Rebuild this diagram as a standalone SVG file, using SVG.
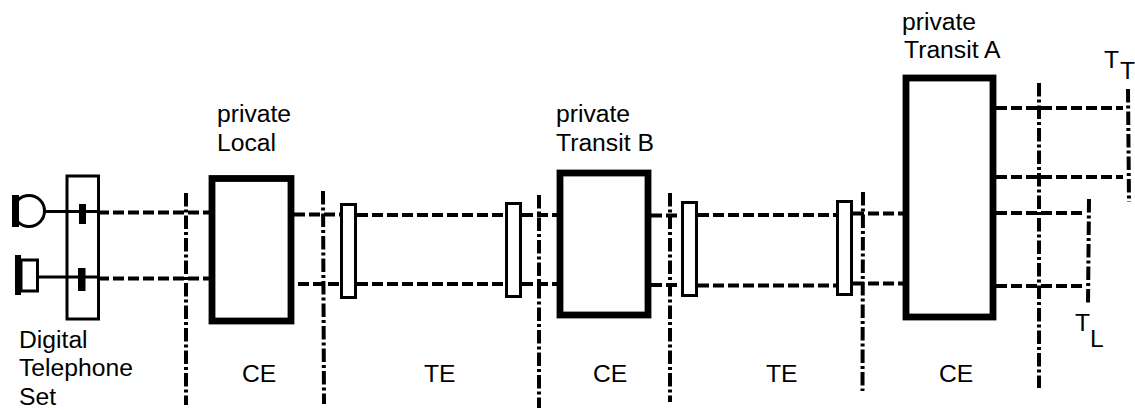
<svg xmlns="http://www.w3.org/2000/svg" width="1135" height="410" viewBox="0 0 1135 410">
<style>
text{font-family:"Liberation Sans",Arial,sans-serif;font-size:24.700px;fill:#000}
.d{fill:none;stroke:#000;stroke-width:4;stroke-dasharray:11 4}
.b{fill:none;stroke:#000;stroke-width:4;stroke-dasharray:13.500 3 3 3}
.s{fill:none;stroke:#000;stroke-width:3}
.big{fill:#fff;stroke:#000;stroke-width:6.800}
.small{fill:#fff;stroke:#000;stroke-width:3}
.k{fill:#000}
</style>
<rect width="1135" height="410" fill="#fff"/>
<g id="connectors">
<path class="d" d="M98 212.500H209M98 278.500H209"/>
<path class="d" d="M294 214.500H340M298 284H340"/>
<path class="d" d="M357 215H505M357 284H505"/>
<path class="d" d="M522 215H557M522 284H557"/>
<path class="d" d="M651 215.500H681M651 285H681"/>
<path class="d" d="M698 215H836M698 285.500H836"/>
<path class="d" d="M853 213.500H903M853 283.500H903"/>
<path class="d" d="M996 108H1123M996 177H1123M996 213H1083M996 286H1083"/>
</g>
<g id="boundaries">
<path class="b" d="M186 193V405"/>
<path class="b" d="M323 191L324 404"/>
<path class="b" d="M539 195V408"/>
<path class="b" d="M670 193V402"/>
<path class="b" d="M863 192L862.500 391"/>
<path class="b" d="M1039 83V388"/>
<path class="b" d="M1128 89L1129 202"/>
<path class="b" d="M1089 199L1088 305"/>
</g>
<g id="microphone">
<circle class="s" cx="29" cy="211" r="15.500"/>
<rect class="k" x="12" y="195" width="7" height="32"/>
<path class="s" d="M45 211.500H100"/>
<rect class="k" x="79" y="204" width="7" height="20"/>
</g>
<g id="earpiece">
<rect class="k" x="15" y="255" width="6" height="40"/>
<rect class="s" x="21" y="260" width="16.500" height="31"/>
<path class="s" d="M38 277H100"/>
<rect class="k" x="78" y="268" width="7.500" height="23"/>
</g>
<g id="telephone-set">
<rect class="s" x="67" y="176" width="31.500" height="143" stroke-width="2.500"/>
<text x="19" y="348">Digital</text>
<text x="19" y="376.300">Telephone</text>
<text x="19" y="404.700">Set</text>
</g>
<g id="private-local">
<rect class="big" x="212" y="178.500" width="79" height="142.500"/>
<text x="217" y="122">private</text>
<text x="217" y="151">Local</text>
<text x="242" y="382">CE</text>
</g>
<g id="te-left-a"><rect class="small" x="341.500" y="204.500" width="14" height="93"/></g>
<g id="te-left-b"><rect class="small" x="506.500" y="203.500" width="14" height="93"/></g>
<g id="te-left-label"><text x="424" y="382">TE</text></g>
<g id="private-transit-b">
<rect class="big" x="560" y="173" width="88" height="142"/>
<text x="556" y="122">private</text>
<text x="556" y="151">Transit B</text>
<text x="593" y="382">CE</text>
</g>
<g id="te-right-a"><rect class="small" x="682.500" y="202.500" width="14" height="93"/></g>
<g id="te-right-b"><rect class="small" x="837.500" y="201.500" width="14" height="93"/></g>
<g id="te-right-label"><text x="766" y="382">TE</text></g>
<g id="private-transit-a">
<rect class="big" x="906" y="78" width="87" height="239"/>
<text x="902" y="30">private</text>
<text x="904" y="58">Transit A</text>
<text x="939" y="382">CE</text>
</g>
<g id="tt-label"><text x="1104" y="68">T</text><text x="1120" y="79">T</text></g>
<g id="tl-label"><text x="1075" y="331">T</text><text x="1090" y="347">L</text></g>
</svg>
